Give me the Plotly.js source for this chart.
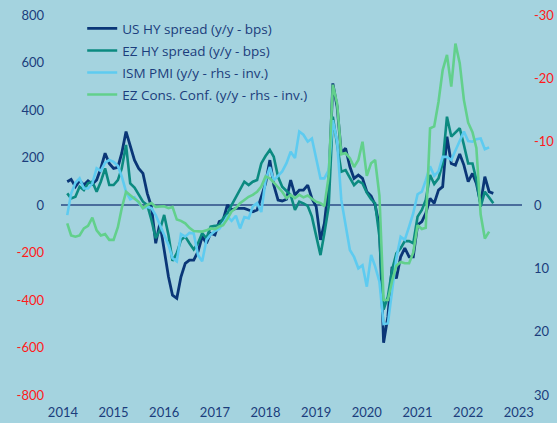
<!DOCTYPE html>
<html>
<head>
<meta charset="utf-8">
<script src="https://cdn.plot.ly/plotly-3.0.1.min.js"></script>
<style>html,body{margin:0;padding:0;background:#a4d3df;}#chart{width:557px;height:423px;}</style>
</head>
<body>
<div id="chart"></div>
<script>
// Monthly observations, first month Feb 2014
const startMonth = [2014, 2];

const usHY = [98,108,77,102,84,102,88,105,154,218,175,154,159,218,309,246,189,154,133,49,
  -7,-161,-77,-189,-302,-380,-393,-302,-246,-232,-232,-196,-133,-161,-119,-126,-70,-63,0,-21,
  -14,-14,-14,-21,-28,-21,35,91,189,84,21,17,24,105,42,63,63,84,28,-7,
  -147,-77,84,512,414,218,239,161,112,126,112,56,38,0,-91,-580,-470,-260,-309,-218,
  -182,-218,-218,-84,-70,-35,28,7,63,77,288,175,168,215,168,98,133,91,7,119,56,49];

const ezHY = [49,28,35,77,63,91,98,56,98,154,84,84,105,154,253,91,73,42,14,0,
  -63,-140,-105,-42,-126,-235,-203,-147,-133,-161,-187,-161,-119,-140,-91,-88,-84,-56,-35,0,
  35,63,98,84,98,105,175,206,232,203,119,77,60,42,-21,14,7,-4,-49,-133,
  -211,-119,-7,372,246,140,147,112,84,101,91,52,24,7,-133,-440,-386,-274,-204,-182,
  -152,-152,-161,-49,-21,21,126,88,112,175,372,288,305,323,253,175,175,105,-7,56,32,7];

const ismPMI = [1.6,-1.8,-3.5,-4.2,-2.6,-2.6,-3.4,-5.8,-5.4,-6.7,-7.1,-6.8,-6.2,-4.5,-2.1,-0.9,-1.2,-0.3,0.5,0.3,
  0.5,1.6,3.2,4.7,6.3,8.4,8.9,4.6,5.0,4.4,4.5,7.9,8.9,5.5,4.7,4.1,3.8,2.9,1.8,2.5,
  1.7,3.7,1.9,2.1,0.2,-0.3,1.1,-3.9,-6.0,-3.9,-4.7,-5.3,-6.6,-8.4,-7.4,-11.6,-11.1,-10.0,-10.5,-7.5,
  -4.2,-4.2,-5.5,-13.4,-10.0,-0.8,2.9,7.1,8.2,10.0,9.5,12.9,7.9,9.7,12.1,18.8,18.7,13.4,8.4,5.0,
  5.5,3.4,1.3,-1.7,-2.1,-3.9,-6.1,-4.6,-5.3,-7.6,-7.6,-7.1,-8.6,-10.3,-11.6,-10.1,-10.0,-10.4,-10.5,-8.8,-9.1];

const ezConf = [2.9,4.8,5.0,4.8,3.7,3.3,2.0,4.0,4.8,4.6,5.5,5.5,3.5,0.5,-2.1,-1.5,-1.0,-0.5,0.5,0.0,
  -0.3,0.3,0.3,0.2,0.5,0.3,2.3,2.5,2.9,3.6,4.1,4.2,4.2,4.0,3.7,3.8,3.4,3.2,2.2,1.0,
  0.5,-0.3,-0.8,-1.3,-1.6,-2.1,-2.9,-4.5,-4.2,-3.5,-2.8,-2.1,-1.1,-1.6,-1.1,-1.6,-1.2,-1.5,-1.0,-0.5,
  -0.3,0.2,-4.5,-19.0,-16.0,-8.0,-8.2,-7.4,-6.0,-7.1,-10.0,-4.6,-6.6,-7.1,-1.5,15.0,15.0,12.0,9.6,9.0,
  9.2,9.2,7.5,3.2,3.8,3.6,-12.1,-12.4,-16.3,-21.3,-23.7,-18.7,-25.5,-22.4,-16.6,-13.0,-11.5,-9.0,1.5,5.3,4.2];

const seriesNames = ["US HY spread (y/y - bps)", "EZ HY spread (y/y - bps)", "ISM PMI (y/y - rhs - inv.)", "EZ Cons. Conf. (y/y - rhs - inv.)"];
const yearLabels = ["2014","2015","2016","2017","2018","2019","2020","2021","2022","2023"];
const leftTicks = [-800,-600,-400,-200,0,200,400,600,800];
const rightTicks = [-30,-20,-10,0,10,20,30];

function monthDates(n) {
  const out = [];
  for (let i = 0; i < n; i++) {
    const t = startMonth[1] - 1 + i;
    const y = startMonth[0] + Math.floor(t / 12);
    const m = (t % 12) + 1;
    out.push(y + "-" + String(m).padStart(2, "0") + "-01");
  }
  return out;
}

const NAVY = "#1b3d7c", RED = "#ff1a1a";
function lbl(v) { return v < 0 ? "<span style='color:" + RED + "'>" + v + "</span>" : String(v); }

const traces = [
  {x: monthDates(usHY.length), y: usHY, name: seriesNames[0], legendgroup: "a", type: "scatter", mode: "lines",
   line: {color: "#0a3677", width: 2.8}, yaxis: "y"},
  {x: monthDates(ezHY.length), y: ezHY, name: seriesNames[1], legendgroup: "b", type: "scatter", mode: "lines",
   line: {color: "#0b8a80", width: 2.6}, yaxis: "y"},
  {x: monthDates(ismPMI.length), y: ismPMI, name: seriesNames[2], legendgroup: "c", type: "scatter", mode: "lines",
   line: {color: "#5ecbf0", width: 2.6}, yaxis: "y2"},
  {x: monthDates(ezConf.length), y: ezConf, name: seriesNames[3], legendgroup: "d", type: "scatter", mode: "lines",
   line: {color: "#62d08c", width: 2.6}, yaxis: "y2"}
];

const font = {family: "Lato, 'Open Sans', sans-serif", size: 13, color: NAVY};
const legendFont = {family: "'Open Sans', Lato, sans-serif", size: 13.5, color: NAVY};

const layout = {
  width: 557, height: 423,
  paper_bgcolor: "#a4d3df", plot_bgcolor: "#a4d3df",
  margin: {l: 61, r: 35, t: 15, b: 28, pad: 0},
  font: font,
  showlegend: true,
  legend: {x: 0.046, y: 1.005, xanchor: "left", yanchor: "top", bgcolor: "rgba(0,0,0,0)",
           font: legendFont, tracegroupgap: 1.5, traceorder: "grouped"},
  xaxis: {type: "date", range: ["2013-12-18", "2023-01-24"],
          tickvals: yearLabels.map(y => y + "-01-01"), ticktext: yearLabels,
          showgrid: false, zeroline: false, showline: false, ticks: "",
          tickfont: font, ticklabelstandoff: 8, automargin: false},
  yaxis: {range: [-800, 800], tickvals: leftTicks, ticktext: leftTicks.map(lbl),
          showgrid: false, zeroline: true, zerolinecolor: "#4a6d9c", zerolinewidth: 1.6,
          showline: false, ticks: "", tickfont: font, ticklabelstandoff: 16, automargin: false},
  yaxis2: {range: [30, -30], overlaying: "y", side: "right",
           tickvals: rightTicks, ticktext: rightTicks.map(lbl),
           showgrid: false, zeroline: false, showline: false, ticks: "",
           tickfont: font, ticklabelstandoff: 11, automargin: false}
};

Plotly.newPlot("chart", traces, layout, {displayModeBar: false, staticPlot: true});
</script>
</body>
</html>
